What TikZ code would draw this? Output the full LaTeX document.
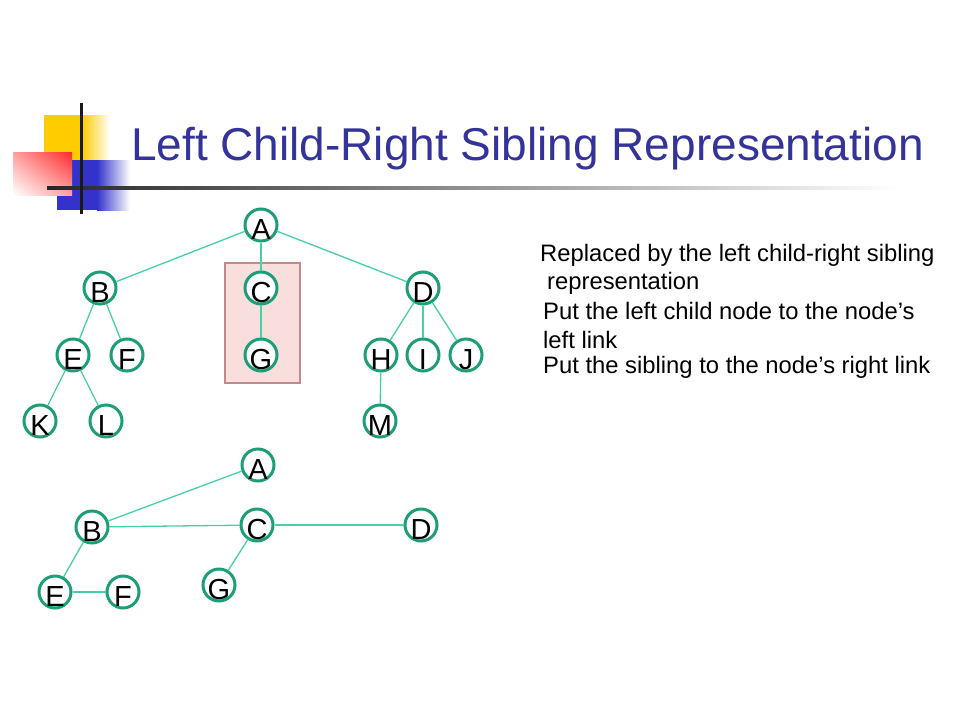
\documentclass[tikz,border=0pt]{standalone}
\usepackage{fontspec}
\setmainfont{Liberation Sans}
\usetikzlibrary{shadings}
\definecolor{lcsnavy}{HTML}{333399}
\definecolor{lcsring}{HTML}{1E9E78}
\definecolor{lcslink}{HTML}{45D0A8}
\definecolor{lcsyellow}{HTML}{FFCC00}
\definecolor{lcsred}{HTML}{FF2A2A}
\definecolor{lcsblue}{HTML}{3333CC}
\definecolor{lcspink}{HTML}{F9DEDE}
\definecolor{lcspinkline}{HTML}{C08A8A}
\newcommand{\lcsletter}[1]{\raisebox{-14.5pt}[0pt][0pt]{\makebox[0pt][c]{#1}}}

\begin{document}
\begin{tikzpicture}[x=1pt, y=-1pt,
    treenode/.style={circle, draw=lcsring, line width=3pt, fill=white, inner sep=0pt, minimum size=32pt, font=\fontsize{29}{29}\selectfont},
    link/.style={draw=lcslink, line width=1.3pt},
    remark/.style={anchor=base west, inner sep=0pt, font=\fontsize{23.8}{28}\selectfont}]
    \useasboundingbox (0,0) rectangle (960,720);
    \fill[white] (0,0) rectangle (960,720);

    \fill[lcsyellow] (44,115) rectangle (82,160);
    \shade[left color=lcsyellow, right color=white] (82,115) rectangle (110,160);
    \fill[lcsblue] (57,160) rectangle (97,210);
    \shade[left color=lcsblue, right color=white] (97,160) rectangle (130,210);
    \shade[upper right=lcsred, upper left=lcsred!45, lower right=lcsred!45, lower left=white] (13,152) rectangle (72,195);
    \shade[left color=black!85, right color=white] (47,186.5) rectangle (900,189.5);
    \fill[black!90] (79.5,103) rectangle (82.5,214);

    \node[anchor=base west, inner sep=0pt, text=lcsnavy, font=\fontsize{46}{50}\selectfont] (title) at (131,160) {Left Child-Right Sibling Representation};

    \node[rectangle, draw=lcspinkline, fill=lcspink, line width=1.5pt, minimum width=75pt, minimum height=120pt] (box) at (262.5,323) {};

    \node[treenode] (a) at (261,225) {\lcsletter{A}};
    \node[treenode] (b) at (100,288) {\lcsletter{B}};
    \node[treenode] (c) at (261,288) {\lcsletter{C}};
    \node[treenode] (d) at (423,288) {\lcsletter{D}};
    \node[treenode] (e) at (73,355) {\lcsletter{E}};
    \node[treenode] (f) at (127,355) {\lcsletter{F}};
    \node[treenode] (g) at (261,355) {\lcsletter{G}};
    \node[treenode] (h) at (381,355) {\lcsletter{H}};
    \node[treenode] (i) at (423,355) {\lcsletter{I}};
    \node[treenode] (j) at (466,355) {\lcsletter{J}};
    \node[treenode] (k) at (40,421) {\lcsletter{K}};
    \node[treenode] (l) at (106,421) {\lcsletter{L}};
    \node[treenode] (m) at (380,421) {\lcsletter{M}};

    \draw[link] (a) -- (b);
    \draw[link] (a) -- (c);
    \draw[link] (a) -- (d);
    \draw[link] (b) -- (e);
    \draw[link] (b) -- (f);
    \draw[link] (e) -- (k);
    \draw[link] (e) -- (l);
    \draw[link] (c) -- (g);
    \draw[link] (d) -- (h);
    \draw[link] (d) -- (i);
    \draw[link] (d) -- (j);
    \draw[link] (h) -- (m);

    \node[treenode] (a2) at (258,465) {\lcsletter{A}};
    \node[treenode] (b2) at (92,527) {\lcsletter{B}};
    \node[treenode] (c2) at (257,525) {\lcsletter{C}};
    \node[treenode] (d2) at (421,525) {\lcsletter{D}};
    \node[treenode] (e2) at (55,592) {\lcsletter{E}};
    \node[treenode] (f2) at (123,592) {\lcsletter{F}};
    \node[treenode] (g2) at (219,585) {\lcsletter{G}};

    \draw[link] (a2) -- (b2);
    \draw[link] (b2) -- (c2);
    \draw[link] (c2) -- (d2);
    \draw[link] (b2) -- (e2);
    \draw[link] (e2) -- (f2);
    \draw[link] (c2) -- (g2);

    \node[remark] (note1) at (540,261) {Replaced by the left child-right sibling};
    \node[remark] (note2) at (547,289) {representation};
    \node[remark] (note3) at (543,319) {Put the left child node to the node’s};
    \node[remark] (note4) at (543,348) {left link};
    \node[remark] (note5) at (543,373) {Put the sibling to the node’s right link};
\end{tikzpicture}
\end{document}
